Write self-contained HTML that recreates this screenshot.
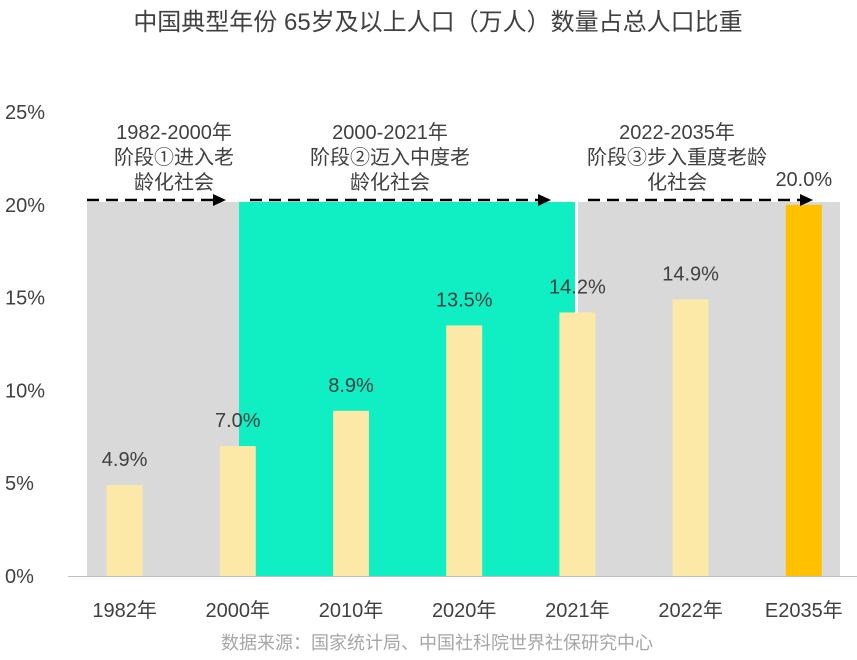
<!DOCTYPE html>
<html><head><meta charset="utf-8"><style>
body{margin:0;background:#fff;}
svg text{font-family:"Liberation Sans","Noto Sans CJK SC",sans-serif;}
</style></head><body>
<svg width="857" height="655" viewBox="0 0 857 655">
<text x="438" y="30" text-anchor="middle" font-size="24" fill="#404040">中国典型年份 65岁及以上人口（万人）数量占总人口比重</text>
<g id="bg"></g><g id="bars"></g><g id="yax"></g><g id="xax"></g><g id="ann"></g>
<text x="437" y="649" text-anchor="middle" font-size="18" fill="#a6a6a6">数据来源：国家统计局、中国社科院世界社保研究中心</text>
</svg>
<script>
const categories=["1982年","2000年","2010年","2020年","2021年","2022年","E2035年"];
const values=[4.9,7.0,8.9,13.5,14.2,14.9,20.0];
const labels=["4.9%","7.0%","8.9%","13.5%","14.2%","14.9%","20.0%"];
const yTicks=[0,5,10,15,20,25];
const NS="http://www.w3.org/2000/svg";
const x0=68,band=113.2,y0=576,pxPer=18.56;
const xc=i=>x0+band*(i+0.5);
const y=v=>y0-v*pxPer;
function mk(p,t,a){const e=document.createElementNS(NS,t);for(const k in a)e.setAttribute(k,a[k]);document.getElementById(p).appendChild(e);return e;}
let r=mk('bg','rect',{x:87,y:202,width:152,height:y0-202,fill:'#d9d9d9'});

r=mk('bg','rect',{x:239,y:202,width:336,height:y0-202,fill:'#10eec4'});

r=mk('bg','rect',{x:578,y:202,width:262,height:y0-202,fill:'#d9d9d9'});

values.forEach((v,i)=>{
 const b=mk('bars','rect',{x:xc(i)-18,y:y(v),width:36,height:y0-y(v),fill:i==6?'#ffc000':'#fde9a7'});
 
 
 const t=mk('bars','text',{x:xc(i),y:y(v)-19,'text-anchor':'middle','font-size':20,fill:'#404040'});
 t.textContent=labels[i];
 
 
 const c=mk('xax','text',{x:xc(i),y:617,'text-anchor':'middle','font-size':20,fill:'#404040'});
 c.textContent=categories[i];
 
 
});
yTicks.forEach(v=>{
 const t=mk('yax','text',{x:5,y:y(v)+7,'font-size':20,fill:'#404040'});
 t.textContent=v+'%';
 
 
});
const ax=mk('xax','line',{x1:68,x2:857,y1:y0+0.5,y2:y0+0.5,stroke:'#bfbfbf','stroke-width':1});

[[87,226],[250,551],[588,813]].forEach((a,i)=>{
 const l=mk('ann','line',{x1:a[0],x2:a[1]-10,y1:200,y2:200,stroke:'#000','stroke-width':2.5,'stroke-dasharray':'12,7'});
 
 const p=mk('ann','polygon',{points:`${a[1]-13},194 ${a[1]},200 ${a[1]-13},206`,fill:'#000'});
 
});
const ph=[[174,["1982-2000年","阶段①进入老","龄化社会"]],[390,["2000-2021年","阶段②迈入中度老","龄化社会"]],[677,["2022-2035年","阶段③步入重度老龄","化社会"]]];
ph.forEach(p=>{p[1].forEach((s,j)=>{
 const t=mk('ann','text',{x:p[0],y:139+j*25,'text-anchor':'middle','font-size':20,fill:'#404040'});
 t.textContent=s;
 
 
});});
</script>
</body></html>
